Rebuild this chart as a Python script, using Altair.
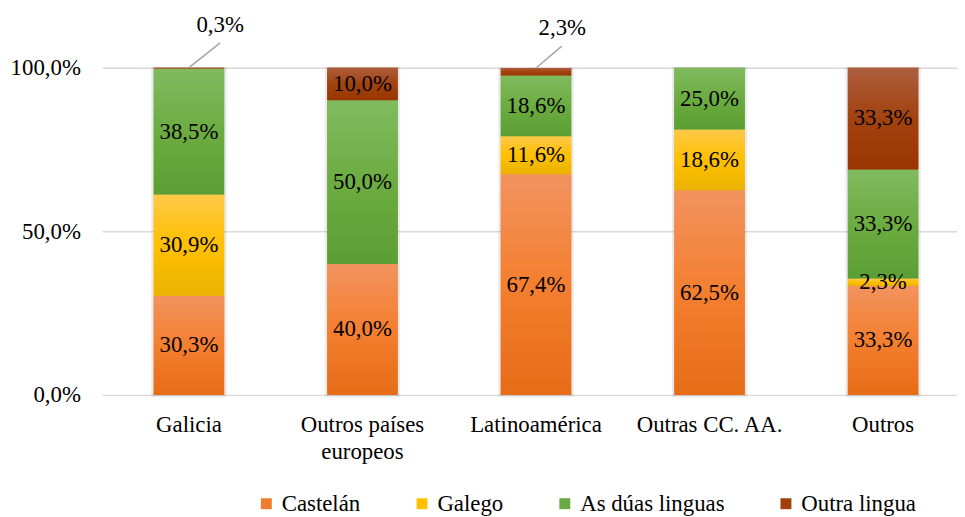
import altair as alt
import pandas as pd

categories = ["Galicia", "Outros países europeos", "Latinoamérica", "Outras CC. AA.", "Outros"]
languages = ["Castelán", "Galego", "As dúas linguas", "Outra lingua"]
castelan = [30.3, 40.0, 67.4, 62.5, 33.3]
galego = [30.9, 0.0, 11.6, 18.6, 2.3]
duas = [38.5, 50.0, 18.6, 25.0, 33.3]
outra = [0.3, 10.0, 2.3, 0.0, 33.3]
# segments whose label is drawn outside the bar with a leader line
outside = [("Galicia", "Outra lingua"), ("Latinoamérica", "Outra lingua")]

solid = ["#F07B2F", "#FFC000", "#6AAA42", "#A13F0B"]
grads = {
    "Castelán": ["#F2935F", "#F47F2F", "#E66C17"],
    "Galego": ["#FFC84A", "#FFC000", "#EAB200"],
    "As dúas linguas": ["#80BB5F", "#6CAC41", "#5B9E33"],
    "Outra lingua": ["#AD5E3E", "#A2420F", "#993600"],
}

FONT = "Liberation Serif"

series = [castelan, galego, duas, outra]
rows = []
tops = []
for i, cat in enumerate(categories):
    start = 0.0
    for lang, vals in zip(languages, series):
        v = vals[i]
        end = start + v
        y0, y1 = min(start, 100.0), min(end, 100.0)
        if v > 0 and y1 > y0:
            rows.append({
                "cat": cat, "lang": lang, "value": v,
                "y0": y0, "y1": y1, "mid": (y0 + y1) / 2,
                "label": f"{v:.1f}".replace(".", ",") + "%",
                "inside": (cat, lang) not in outside,
            })
        start = end
    tops.append({"cat": cat, "top": min(start, 100.0)})

df = pd.DataFrame(rows)
tops_df = pd.DataFrame(tops)

x_enc = alt.X(
    "cat:N", sort=categories,
    scale=alt.Scale(paddingInner=0.594, paddingOuter=0.26, align=0.571),
    axis=alt.Axis(
        title=None, domain=False, ticks=False, labelAngle=0,
        labelFont=FONT, labelFontSize=23, labelColor="black",
        labelPadding=19, labelLineHeight=27, labelLimit=300,
        labelExpr="datum.label == 'Outros países europeos' ? ['Outros países', 'europeos'] : datum.label",
    ),
)
y_scale = alt.Scale(domain=[0, 100], nice=False)
y_enc = alt.Y(
    "y0:Q", scale=y_scale,
    axis=alt.Axis(
        title=None, values=[0, 50, 100], domain=False, ticks=False,
        grid=True, gridColor="#d9d9d9", gridWidth=1.5,
        labelFont=FONT, labelFontSize=23, labelColor="black", labelPadding=22,
        labelExpr="replace(format(datum.value, '.1f'), '.', ',') + '%'",
    ),
)

base = alt.Chart(df)

shadow = alt.Chart(tops_df).mark_bar(
    fill="#000000", fillOpacity=0.10, stroke="#000000", strokeOpacity=0.08,
    strokeWidth=5, yOffset=1.5,
).encode(x=x_enc, y=alt.Y("top:Q", scale=y_scale), y2=alt.datum(0))

legend_bars = base.mark_bar().encode(
    x=x_enc, y=y_enc, y2="y1:Q",
    color=alt.Color(
        "lang:N", scale=alt.Scale(domain=languages, range=solid),
        legend=alt.Legend(
            title=None, orient="none", direction="horizontal",
            legendX=154, legendY=428, symbolType="square", symbolSize=121,
            symbolStrokeWidth=0, labelFont=FONT, labelFontSize=23,
            labelColor="black", labelOffset=4, columnPadding=50, padding=0,
        ),
    ),
)

grad_layers = []
for lang in languages:
    c = grads[lang]
    grad_layers.append(
        base.transform_filter(alt.datum.lang == lang).mark_bar(
            color=alt.Gradient(
                gradient="linear", x1=0, x2=0, y1=0, y2=1,
                stops=[alt.GradientStop(color=c[0], offset=0),
                       alt.GradientStop(color=c[1], offset=0.5),
                       alt.GradientStop(color=c[2], offset=1)],
            )
        ).encode(x=x_enc, y=y_enc, y2="y1:Q")
    )

labels = base.transform_filter(alt.datum.inside).mark_text(
    font=FONT, fontSize=23, color="black", baseline="middle"
).encode(x=x_enc, y=alt.Y("mid:Q", scale=y_scale), text="label:N")

ann = base.transform_filter(~alt.datum.inside)
ann_layers = []
for cat, (dx, dy, lx, ly) in zip(["Galicia", "Latinoamérica"],
                                 [(31.5, -43, 31.5, -25), (26.5, -40, 26, -22)]):
    a = ann.transform_filter(alt.datum.cat == cat)
    ann_layers.append(
        a.mark_rule(color="#a6a6a6", strokeWidth=1.5, x2Offset=lx, y2Offset=ly).encode(
            x=x_enc, x2="cat:N", y=alt.Y("y1:Q", scale=y_scale), y2="y1:Q")
    )
    ann_layers.append(
        a.mark_text(font=FONT, fontSize=23, color="black", baseline="middle", dx=dx, dy=dy).encode(
            x=x_enc, y=alt.Y("y1:Q", scale=y_scale), text="label:N")
    )

chart = alt.layer(shadow, legend_bars, *grad_layers, labels, *ann_layers).properties(
    width=862, height=330,
    autosize=alt.AutoSizeParams(type="none"),
    padding={"left": 95, "top": 58, "right": 0, "bottom": 121},
    background="white",
).configure_view(stroke=None)

chart.save("out.html", embed_options={"renderer": "svg", "actions": False})
